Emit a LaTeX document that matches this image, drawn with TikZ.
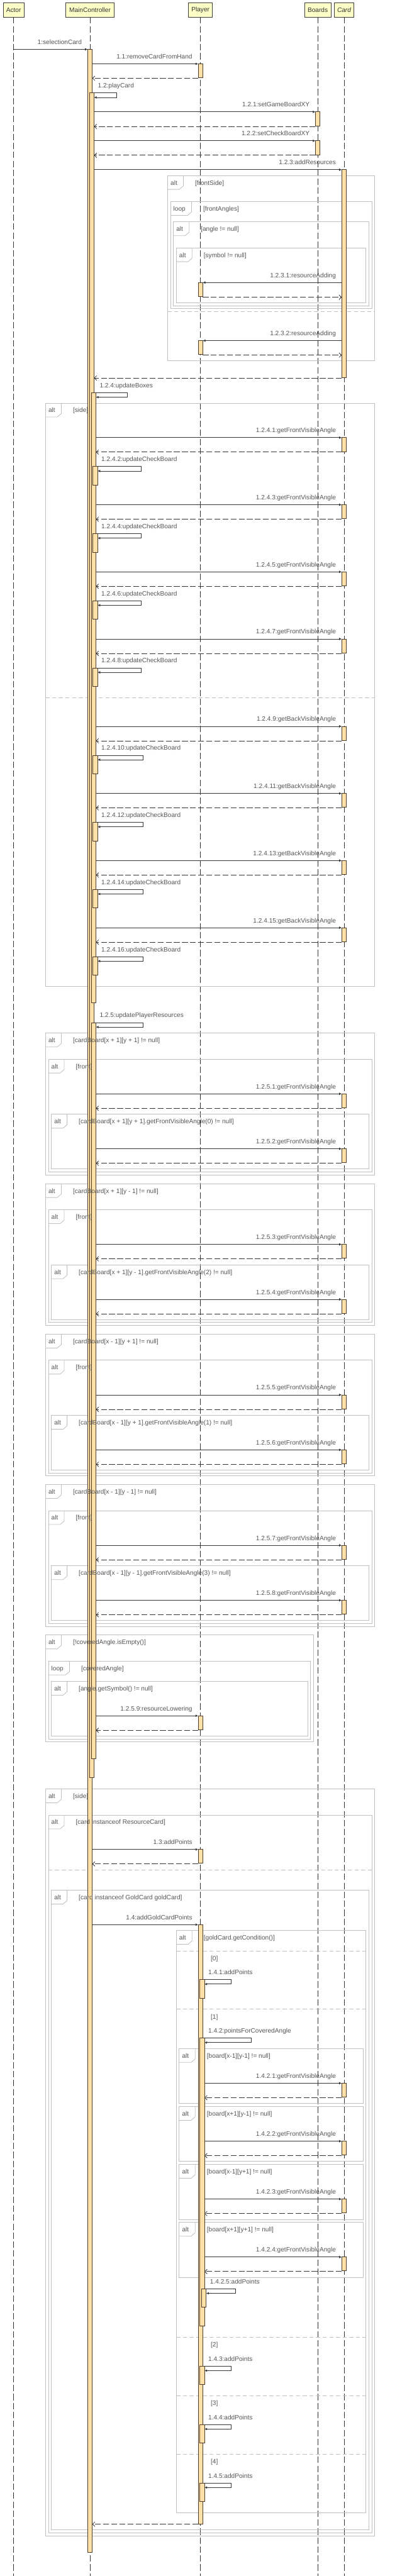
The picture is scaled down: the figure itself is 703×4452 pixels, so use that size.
\documentclass[tikz,border=0pt]{standalone}
\usepackage{fontspec}
\setmainfont{Liberation Sans}
\usetikzlibrary{arrows.meta}
\pgfdeclarelayer{bg}
\pgfdeclarelayer{fg}
\pgfsetlayers{bg,main,fg}
\definecolor{hdrfill}{RGB}{255,255,200}
\definecolor{hdrline}{RGB}{60,60,60}
\definecolor{lifec}{RGB}{50,50,50}
\definecolor{actfill}{RGB}{255,225,168}
\definecolor{actline}{RGB}{75,60,45}
\definecolor{arrc}{RGB}{55,55,55}
\definecolor{frc}{RGB}{192,192,192}
\definecolor{txtc}{RGB}{85,85,85}
\definecolor{txtdark}{RGB}{50,50,50}
\newcommand\mylblfont{\fontsize{11}{13}\selectfont}
\tikzset{
  hdr/.style={draw=hdrline, fill=hdrfill, line width=0.9pt, minimum height=24pt, inner sep=0pt, font=\mylblfont, text=txtdark},
  life/.style={draw=lifec, line width=0.9pt, dash pattern=on 11pt off 4.5pt},
  actbar/.style={draw=actline, fill=actfill, line width=0.9pt},
  callarrow/.style={draw=arrc, line width=0.9pt, -{Latex[length=4.5pt,width=4.5pt]}},
  retarrow/.style={draw=arrc, line width=0.9pt, dash pattern=on 10pt off 4pt, -{Straight Barb[length=4pt,width=8pt]}},
  frameline/.style={draw=frc, line width=0.9pt},
  sepline/.style={draw=frc, line width=0.9pt, dash pattern=on 7pt off 4.5pt},
  lbl/.style={font=\mylblfont, text=txtc, inner sep=0pt, text height=8pt, text depth=1.5pt},
}
% activation bar: name, left x, top y, bottom y
\newcommand\actv[4]{%
  \coordinate (#1-nw) at ({#2},{#3});
  \coordinate (#1-se) at ({#2+8},{#4});
  \draw[actbar] (#1-nw) rectangle (#1-se);}
% call message: name, y, from x, to x, label
\newcommand\callm[5]{%
  \coordinate (#1-s) at ({#3},{#2});
  \coordinate (#1-e) at ({#4},{#2});
  \draw[callarrow] (#1-s) -- (#1-e);
  \begin{pgfonlayer}{fg}
  \node[lbl,anchor=east] (#1-l) at ({max(#3,#4)-10},{#2-12}) {#5};
  \end{pgfonlayer}}
% return message: name, y, from x, to x
\newcommand\retm[4]{%
  \coordinate (#1-s) at ({#3},{#2});
  \coordinate (#1-e) at ({#4},{#2});
  \draw[retarrow] (#1-s) -- (#1-e);}
% self message: name, y, act right x, loop right x, label
\newcommand\selfm[5]{%
  \coordinate (#1-a) at ({#3},{#2});
  \coordinate (#1-b) at ({#4},{#2});
  \coordinate (#1-c) at ({#4},{#2+7.7});
  \coordinate (#1-d) at ({#3},{#2+7.7});
  \draw[callarrow] (#1-a) -- (#1-b) -- (#1-c) -- (#1-d);
  \begin{pgfonlayer}{fg}
  \node[lbl,anchor=west] (#1-l) at ({#3+6.4},{#2-12}) {#5};
  \end{pgfonlayer}}
% frame: name, x1, y1, x2, y2, tag, tag width, guard
\newcommand\frm[8]{%
  \begin{pgfonlayer}{bg}
  \coordinate (#1-nw) at ({#2},{#3});
  \coordinate (#1-se) at ({#4},{#5});
  \draw[frameline] (#1-nw) rectangle (#1-se);
  \draw[frameline] ({#2},{#3+24}) -- ({#2+#7-7},{#3+24}) -- ({#2+#7},{#3+18}) -- ({#2+#7},{#3});
  \end{pgfonlayer}
  \begin{pgfonlayer}{fg}
  \node[lbl,anchor=west] (#1-tag) at ({#2+5},{#3+13}) {#6};
  \node[lbl,anchor=west] (#1-g) at ({#2+#7+20},{#3+13}) {#8};
  \end{pgfonlayer}}
% separator: name, x1, x2, y
\newcommand\sepm[4]{%
  \begin{pgfonlayer}{bg}
  \coordinate (#1-l) at ({#2},{#4});
  \coordinate (#1-r) at ({#3},{#4});
  \draw[sepline] (#1-l) -- (#1-r);
  \end{pgfonlayer}}
% corner group: name, T, outer guard, inner guard, n1, n2
\newcommand\cornergrp[6]{%
  \frm{#1o}{78.6}{#2}{647.3}{#2+245}{alt}{27.3}{#3}
  \frm{#1f}{83.6}{#2+45}{642.3}{#2+240}{alt}{27.3}{[front]}
  \actv{#1a}{590.5}{#2+105}{#2+129}
  \callm{#1m}{#2+105}{165.7}{590.5}{1.2.5.#5:getFrontVisibleAngle}
  \retm{#1r}{#2+130}{590.5}{165.7}
  \frm{#1i}{88.6}{#2+140.4}{637.3}{#2+235}{alt}{27.3}{#4}
  \actv{#1b}{590.5}{#2+200}{#2+224}
  \callm{#1n}{#2+200}{165.7}{590.5}{1.2.5.#6:getFrontVisibleAngle}
  \retm{#1q}{#2+225}{590.5}{165.7}}
% board group: name, T, guard, n
\newcommand\boardgrp[4]{%
  \frm{#1f}{309.5}{#2}{627.3}{#2+95}{alt}{27.7}{#3}
  \actv{#1a}{590.5}{#2+60}{#2+84}
  \callm{#1m}{#2+60}{353.3}{590.5}{1.4.2.#4:getFrontVisibleAngle}
  \retm{#1r}{#2+85}{590.5}{353.3}}
\begin{document}
\begin{tikzpicture}[x=1pt,y=-1pt]
\useasboundingbox (0,0) rectangle (703,4452);
\coordinate (bottom) at (0,4452);
% headers
\node[hdr, minimum width=35.5pt] (actor) at (23.5,17.3) {Actor};
\node[hdr, minimum width=83pt] (mc) at (155.5,17.3) {MainController};
\node[hdr, minimum width=41pt] (player) at (346.4,17.3) {Player};
\node[hdr, minimum width=46pt] (boards) at (549,17.3) {Boards};
\node[hdr, minimum width=34pt] (card) at (594.5,17.3) {\itshape Card};
\begin{pgfonlayer}{bg}
\draw[life] (actor.south) -- (actor.south |- bottom);
\draw[life] (mc.south) -- (mc.south |- bottom);
\draw[life] (player.south) -- (player.south |- bottom);
\draw[life] (boards.south) -- (boards.south |- bottom);
\draw[life] (card.south) -- (card.south |- bottom);
\end{pgfonlayer}
% ---- top part
\actv{mc0}{151.5}{85.3}{4411.3}
\callm{m1}{85.3}{23.5}{151.5}{1:selectionCard}
\actv{pl1}{342.4}{110.3}{134.3}
\callm{m11}{110.3}{159.5}{342.4}{1.1:removeCardFromHand}
\retm{r11}{135.3}{342.4}{159.5}
\actv{mc1}{154.5}{160.7}{3072.3}
\selfm{m12}{160.7}{162.5}{201.4}{1.2:playCard}
\actv{bd1}{545}{193.3}{217.3}
\callm{m121}{193.3}{162.5}{545}{1.2.1:setGameBoardXY}
\retm{r121}{218.7}{545}{162.5}
\actv{bd2}{545}{243.3}{267.3}
\callm{m122}{243.3}{162.5}{545}{1.2.2:setCheckBoardXY}
\retm{r122}{268.3}{545}{162.5}
\actv{cd1}{590.5}{293.3}{652.7}
\callm{m123}{293.3}{162.5}{590.5}{1.2.3:addResources}
\retm{r123}{653.3}{590.5}{162.5}
\frm{f1}{289.5}{303.3}{647.3}{623.3}{alt}{27.3}{[frontSide]}
\sepm{s1}{289.5}{647.3}{538.3}
\frm{f2}{294.5}{348.3}{642.3}{533.3}{loop}{36.5}{[frontAngles]}
\frm{f3}{299.5}{383.3}{637.3}{528.3}{alt}{27.3}{[angle != null]}
\frm{f4}{304.5}{428.3}{632.3}{523.3}{alt}{27.3}{[symbol != null]}
\actv{pl2}{342.4}{488.3}{512.7}
\callm{m1231}{488.3}{590.5}{350.4}{1.2.3.1:resourceAdding}
\retm{r1231}{513.7}{350.4}{590.5}
\actv{pl3}{342.4}{588.7}{612.7}
\callm{m1232}{588.7}{590.5}{350.4}{1.2.3.2:resourceAdding}
\retm{r1232}{613.7}{350.4}{590.5}
% ---- updateBoxes
\actv{mc2}{157.7}{678.7}{1733.3}
\selfm{m124}{678.7}{165.7}{219.5}{1.2.4:updateBoxes}
\frm{f5}{78.6}{696.7}{647.3}{1704.3}{alt}{27.3}{[side]}
\sepm{s5}{78.6}{647.3}{1205.3}
\foreach \Y/\a/\b/\kind/\lr in {756.3/1/2/Front/244,872.3/3/4/Front/244,988.3/5/6/Front/244,1104.3/7/8/Front/244,1255.3/9/10/Back/246.8,1371.3/11/12/Back/246.8,1487.3/13/14/Back/246.8,1603.3/15/16/Back/246.8}{%
  \actv{ca\a}{590.5}{\Y}{\Y+24}
  \callm{ga\a}{\Y}{165.7}{590.5}{1.2.4.\a:get\kind VisibleAngle}
  \retm{gr\a}{\Y+25}{590.5}{165.7}
  \actv{ua\b}{160.6}{\Y+50}{\Y+82}
  \selfm{um\b}{\Y+50}{168.6}{\lr}{1.2.4.\b:updateCheckBoard}
}
% ---- updatePlayerResources
\actv{mc2b}{157.7}{1767.3}{3039.3}
\selfm{m125}{1767.3}{165.7}{247.7}{1.2.5:updatePlayerResources}
\cornergrp{cgA}{1785.4}{[cardBoard[x + 1][y + 1] != null]}{[cardBoard[x + 1][y + 1].getFrontVisibleAngle(0) != null]}{1}{2}
\cornergrp{cgB}{2045.6}{[cardBoard[x + 1][y - 1] != null]}{[cardBoard[x + 1][y - 1].getFrontVisibleAngle(2) != null]}{3}{4}
\cornergrp{cgC}{2305.7}{[cardBoard[x - 1][y + 1] != null]}{[cardBoard[x - 1][y + 1].getFrontVisibleAngle(1) != null]}{5}{6}
\cornergrp{cgD}{2565.7}{[cardBoard[x - 1][y - 1] != null]}{[cardBoard[x - 1][y - 1].getFrontVisibleAngle(3) != null]}{7}{8}
\frm{f6}{78.6}{2825.7}{541.8}{3010.3}{alt}{27.3}{[!coveredAngle.isEmpty()]}
\frm{f7}{83.6}{2870.7}{536.8}{3005.3}{loop}{36.5}{[coveredAngle]}
\frm{f8}{88.6}{2905.7}{531.8}{3000.3}{alt}{27.3}{[angle.getSymbol() != null]}
\actv{pl4}{342.4}{2965.3}{2989.3}
\callm{m1259}{2965.3}{165.7}{342.4}{1.2.5.9:resourceLowering}
\retm{r1259}{2990.3}{342.4}{165.7}
% ---- points
\frm{f9}{78.6}{3091.7}{647.3}{4382.3}{alt}{27.3}{[side]}
\frm{f10}{83.6}{3136.7}{642.3}{4377.3}{alt}{27.3}{[card instanceof ResourceCard]}
\sepm{s10}{83.6}{642.3}{3231.3}
\actv{pl5}{342.4}{3196.3}{3220.3}
\callm{m13}{3196.3}{159.5}{342.4}{1.3:addPoints}
\retm{r13}{3221.3}{342.4}{159.5}
\frm{f11}{88.6}{3266.7}{637.3}{4372.3}{alt}{27.3}{[card instanceof GoldCard goldCard]}
\actv{pl6}{342.4}{3326.3}{4361.7}
\callm{m14}{3326.3}{159.5}{342.4}{1.4:addGoldCardPoints}
\retm{r14}{4362.3}{342.4}{159.5}
\frm{f12}{304.5}{3336.3}{632.3}{4342.3}{alt}{27.3}{[goldCard.getCondition()]}
\sepm{s12a}{304.5}{632.3}{3371.7}
\sepm{s12b}{304.5}{632.3}{3472.3}
\sepm{s12c}{304.5}{632.3}{4039.7}
\sepm{s12d}{304.5}{632.3}{4140.3}
\sepm{s12e}{304.5}{632.3}{4241.3}
\begin{pgfonlayer}{fg}
\node[lbl,anchor=west] (op0) at (364,3385) {[0]};
\node[lbl,anchor=west] (op1) at (364,3485.7) {[1]};
\node[lbl,anchor=west] (op2) at (364,4052.7) {[2]};
\node[lbl,anchor=west] (op3) at (364,4153.7) {[3]};
\node[lbl,anchor=west] (op4) at (364,4254.7) {[4]};
\end{pgfonlayer}
\actv{pl7}{345.3}{3421.3}{3453.3}
\selfm{m141}{3421.3}{353.3}{399}{1.4.1:addPoints}
\actv{pl8}{345.3}{3522.3}{4020.3}
\selfm{m142}{3522.3}{353.3}{434.5}{1.4.2:pointsForCoveredAngle}
\boardgrp{bgA}{3540.3}{[board[x-1][y-1] != null]}{1}
\boardgrp{bgB}{3640.5}{[board[x+1][y-1] != null]}{2}
\boardgrp{bgC}{3740.6}{[board[x-1][y+1] != null]}{3}
\boardgrp{bgD}{3840.7}{[board[x+1][y+1] != null]}{4}
\actv{pl9}{348.3}{3955.7}{3987.3}
\selfm{m1425}{3955.7}{356.3}{407.3}{1.4.2.5:addPoints}
\actv{pl10}{345.3}{4089.3}{4121.3}
\selfm{m143}{4089.3}{353.3}{399}{1.4.3:addPoints}
\actv{pl11}{345.3}{4190.3}{4222.3}
\selfm{m144}{4190.3}{353.3}{399}{1.4.4:addPoints}
\actv{pl12}{345.3}{4291.3}{4323.3}
\selfm{m145}{4291.3}{353.3}{399}{1.4.5:addPoints}
\end{tikzpicture}
\end{document}
